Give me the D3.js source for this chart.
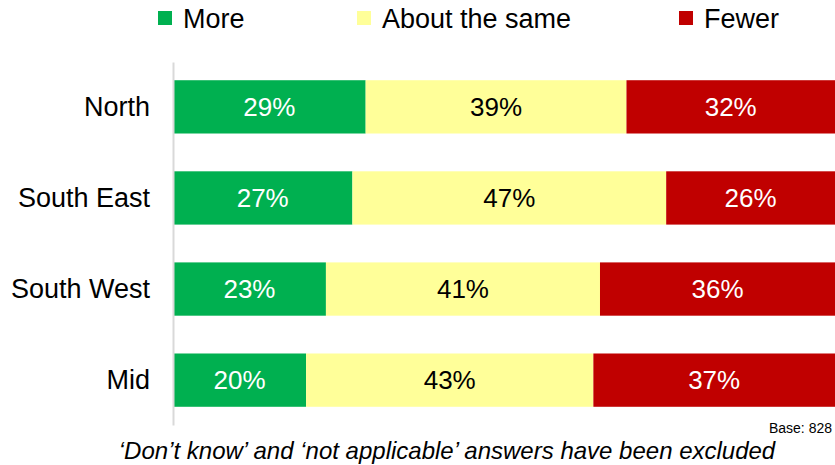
<!DOCTYPE html>
<html><head><meta charset="utf-8">
<script src="https://cdn.jsdelivr.net/npm/d3@7"></script>
<style>body{margin:0;background:#fff}svg{display:block;font-family:"Liberation Sans",Arial,sans-serif}</style>
</head><body><svg id="c" width="835" height="465"></svg>
<script>
const categories = ["North", "South East", "South West", "Mid"];
const seriesNames = ["More", "About the same", "Fewer"];
const more = [29.1, 27.1, 23.1, 20.1];
const same = [39.4, 47.4, 41.4, 43.4];
const fewer = [31.5, 25.5, 35.5, 36.5];
const colors = ["#00B050", "#FFFF99", "#C00000"];
const labelColors = ["#fff", "#000", "#fff"];

const svg = d3.select("#c");
const x = d3.scaleLinear().domain([0, 100]).range([173, 835]);
const y = d3.scaleBand().domain(categories).range([62, 425]).paddingInner(0.415).paddingOuter(0.2);

const rows = categories.map((c, i) => ({cat: c, vals: [more[i], same[i], fewer[i]]}));
rows.forEach(r => {
  let acc = 0;
  r.segs = r.vals.map((v, k) => { const s = {x0: acc, x1: acc + v, v, k}; acc += v; return s; });
});

const g = svg.append("g");
const rowG = g.selectAll("g.row").data(rows).join("g").attr("class", "row");
rowG.selectAll("rect").data(d => d.segs.map(s => ({...s, cat: d.cat}))).join("rect")
  .attr("x", d => x(d.x0)).attr("width", d => x(d.x1) - x(d.x0))
  .attr("y", d => y(d.cat)).attr("height", y.bandwidth())
  .attr("fill", d => colors[d.k]);
rowG.selectAll("text").data(d => d.segs.map(s => ({...s, cat: d.cat}))).join("text")
  .attr("x", d => (x(d.x0) + x(d.x1)) / 2).attr("y", d => y(d.cat) + y.bandwidth() / 2)
  .attr("dy", "0.36em").attr("text-anchor", "middle").attr("font-size", 26)
  .attr("fill", d => labelColors[d.k]).text(d => Math.round(d.v) + "%");

// axis
const axis = d3.axisLeft(y).tickSize(0).tickPadding(23);
const ax = svg.append("g").attr("transform", `translate(${x(0)},0)`).call(axis);
ax.select(".domain").attr("stroke", "#D9D9D9").attr("stroke-width", 2);
ax.selectAll("text").attr("font-size", 27).attr("fill", "#000").attr("font-family", "Liberation Sans, Arial, sans-serif");

// legend
const legX = [158, 357, 679];
const leg = svg.append("g").selectAll("g").data(seriesNames).join("g")
  .attr("transform", (d, i) => `translate(${legX[i]},11)`);
leg.append("rect").attr("width", 14).attr("height", 14).attr("fill", (d, i) => colors[i]);
leg.append("text").attr("x", 25).attr("y", 7).attr("dy", "0.36em").attr("font-size", 27).attr("fill", "#000").text(d => d);

svg.append("text").attr("x", 832).attr("y", 433).attr("text-anchor", "end").attr("font-size", 14).attr("fill", "#000").text("Base: 828");
svg.append("text").attr("x", 447).attr("y", 459).attr("text-anchor", "middle").attr("font-size", 24).attr("font-style", "italic").attr("fill", "#000")
  .text("\u2018Don\u2019t know\u2019 and \u2018not applicable\u2019 answers have been excluded");
</script></body></html>
